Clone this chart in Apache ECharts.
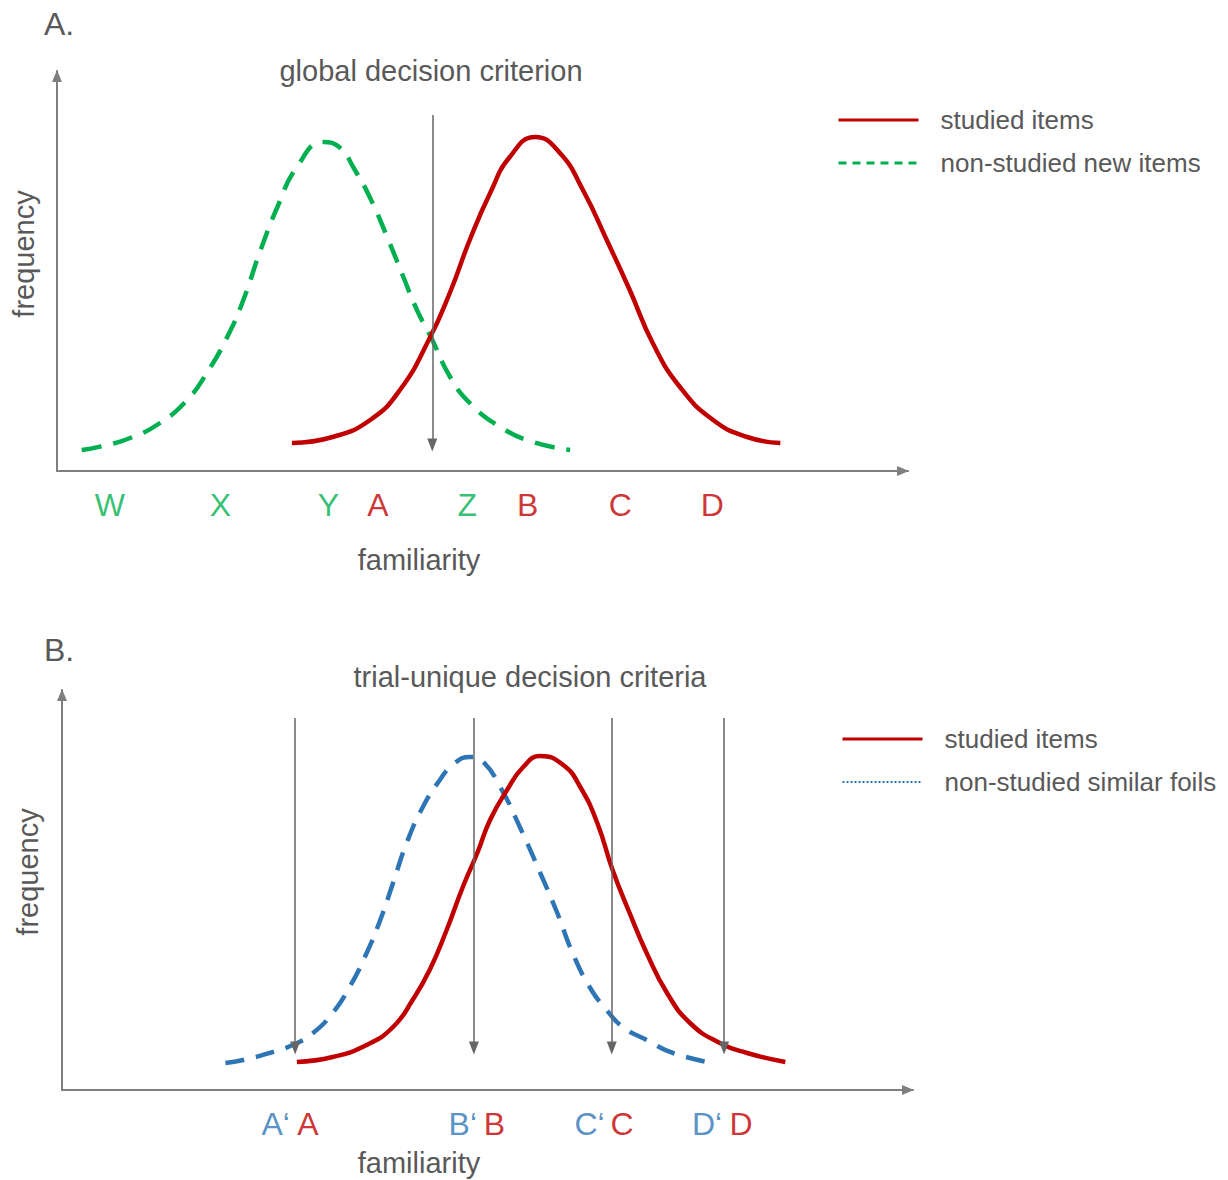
<!DOCTYPE html>
<html><head><meta charset="utf-8">
<script src="https://cdn.jsdelivr.net/npm/echarts@6/dist/echarts.min.js"></script>
<style>html,body{margin:0;padding:0;background:#fff}#chart{width:1228px;height:1180px}</style>
</head><body><div id="chart"></div>
<script>
// ---------- Panel A data (familiarity 0-100, frequency 0-100) ----------
const studiedA = [[27.6,7],[32.4,8.5],[36.8,12.75],[40.3,20.25],[43.8,33.25],[46.2,44.75],[48.5,57.75],[50.9,69.5],[53.2,78.5],[56.2,83.5],[59.1,79.5],[61.8,70.25],[64.6,57.75],[67.3,45.25],[70.0,32],[73.2,21],[77.1,12.75],[81.1,8.5],[85.0,7]];
const newItemsA = [[2.9,5.25],[5.05,6.1],[8.6,8.25],[12.1,12],[15.3,17.75],[17.6,24.5],[20.0,33.5],[21.9,42.75],[23.8,54.5],[25.9,66],[28.2,76],[31.3,82.25],[33.3,80.75],[34.8,76],[36.8,68.25],[38.8,58.5],[40.7,48.5],[42.3,40.25],[44.1,32.75],[46.2,23.5],[48.5,17],[52.1,11],[55.9,7.25],[60.3,5.25]];
const criterionA = [44.1];
const criterionSpanA = [89, 6.5];
const tickNewA = ['W','X','Y','Z'];
const tickNewPosA = [6.2,19.2,31.9,48.2];
const tickStudiedA = ['A','B','C','D'];
const tickStudiedPosA = [37.7,55.3,66.2,77.0];

// ---------- Panel B data ----------
const studiedB = [[27.6,7],[31.8,8.25],[35.8,11.25],[38.9,15.75],[41.2,22.5],[43.2,30],[45.2,40],[47.1,50.75],[48.8,59.25],[50.3,67.5],[52.3,75],[54.2,80.75],[56.2,83.5],[58.9,81.25],[60.9,75.75],[62.9,66.75],[64.7,55],[66.7,44.25],[68.7,34.25],[71.1,24.25],[73.8,16.75],[77.3,11.75],[80.5,9.25],[85.0,7]];
const foilsB = [[19.2,6.75],[21.3,7.5],[24.4,9.25],[27.1,11.25],[29.5,14.25],[31.8,19.25],[33.8,25.75],[35.8,34.25],[37.4,42.5],[38.9,51.75],[40.5,61.75],[42.4,70.75],[44.4,77.5],[45.9,81.25],[47.9,83.25],[49.5,82],[51.5,75.75],[53.8,65.75],[56.2,54.25],[58.2,44.25],[60.0,34.25],[62.0,25.75],[64.0,20],[65.9,15.75],[68.7,12.5],[71.8,9.25],[76.5,6.75]];
const criteriaB = [27.4,48.4,64.6,77.8];
const criterionSpanB = [93, 10.5];
const tickFoilB = ['A\u2018','B\u2018','C\u2018','D\u2018'];
const tickFoilPosB = [25.1,47.1,62.0,75.8];
const tickStudiedB = ['A','B','C','D'];
const tickStudiedPosB = [28.9,50.8,65.8,79.8];

// ---------- styling ----------
const FONT = '"Liberation Sans", Arial, sans-serif';
const TXT = '#595959';
const AXIS = '#7f7f7f';
const RED = '#c00000', GREEN = '#00b050', BLUE = '#2e75b6';

function axisCfg(gi){
  return {type:'value', gridIndex:gi, min:0, max:100, axisTick:{show:false}, axisLabel:{show:false}, splitLine:{show:false},
    axisLine:{show:true, symbol:['none','triangle'], symbolSize:[10,12], symbolOffset:[0,-5], lineStyle:{color:AXIS, width:2}}};
}
function curve(name, data, color, gi, type){
  return {type:'line', name, xAxisIndex:gi, yAxisIndex:gi, data, smooth:0.5, symbol:'none', silent:true,
    lineStyle:{color, width:4.5, type, cap:'butt'}, itemStyle:{color}, z:3};
}
function ticks(names, pos, color, gi, arrows, span){
  const s = {type:'scatter', xAxisIndex:gi, yAxisIndex:gi, silent:true, clip:false, symbolSize:1,
    itemStyle:{color:'rgba(0,0,0,0)'},
    data: pos.map((x,i)=>({value:[x,0], name:names[i]})),
    label:{show:true, position:'inside', offset:[0,34], formatter:'{b}', color, fontSize:32, fontFamily:FONT}, z:5};
  if (arrows) {
    s.markLine = {silent:true, symbol:['none','triangle'], symbolSize:[10,13], animation:false,
      lineStyle:{color:'#666', width:1.5, type:'solid'}, label:{show:false}, emphasis:{disabled:true},
      data: arrows.map(x=>[{coord:[x, span[0]]},{coord:[x, span[1]]}])};
  }
  return s;
}
function txt(text, x, y, size, align, rotation){
  return {type:'text', x, y, silent:true, rotation: rotation || 0,
    style:{text, fontSize:size, fontFamily:FONT, fill:TXT, align: align || 'center', verticalAlign:'middle'}};
}
const legendBase = {orient:'vertical', itemWidth:80, itemHeight:12, itemGap:13, selectedMode:false, padding:0,
  textStyle:{fontSize:26, color:TXT, fontFamily:FONT, lineHeight:30, padding:[0,0,0,17]}};
const hideSym = {opacity:0};

const chart = echarts.init(document.getElementById('chart'), null, {renderer:'svg'});
chart.setOption({
  animation:false,
  backgroundColor:'#fff',
  grid:[{left:57, top:71, width:851, height:400}, {left:62, top:690, width:851, height:400}],
  xAxis:[axisCfg(0), axisCfg(1)],
  yAxis:[axisCfg(0), axisCfg(1)],
  legend:[
    Object.assign({left:837, top:105}, legendBase, {
      data:[{name:'studied items', itemStyle:hideSym, lineStyle:{width:3}},
            {name:'non-studied new items', itemStyle:hideSym, lineStyle:{width:3, type:[8,6]}}]}),
    Object.assign({left:841, top:724}, legendBase, {
      data:[{name:'studied items', itemStyle:hideSym, lineStyle:{width:3}},
            {name:'non-studied similar foils', itemStyle:hideSym, lineStyle:{width:2, type:[2,2]}}]})
  ],
  series:[
    curve('non-studied new items', newItemsA, GREEN, 0, [20,12]),
    curve('studied items', studiedA, RED, 0, 'solid'),
    ticks(tickNewA, tickNewPosA, GREEN, 0, criterionA, criterionSpanA),
    ticks(tickStudiedA, tickStudiedPosA, RED, 0),
    curve('non-studied similar foils', foilsB, BLUE, 1, [19,12]),
    curve('studied items', studiedB, RED, 1, 'solid'),
    ticks(tickFoilB, tickFoilPosB, BLUE, 1, criteriaB, criterionSpanB),
    ticks(tickStudiedB, tickStudiedPosB, RED, 1)
  ],
  graphic:[
    txt('A.', 44, 24, 32, 'left'),
    txt('global decision criterion', 431, 71, 29),
    txt('frequency', 24, 254, 29, 'center', Math.PI/2),
    txt('familiarity', 419, 560, 29),
    txt('B.', 44, 650, 32, 'left'),
    txt('trial-unique decision criteria', 530, 677, 29),
    txt('frequency', 28, 872, 29, 'center', Math.PI/2),
    txt('familiarity', 419, 1163, 29)
  ]
});
</script></body></html>
